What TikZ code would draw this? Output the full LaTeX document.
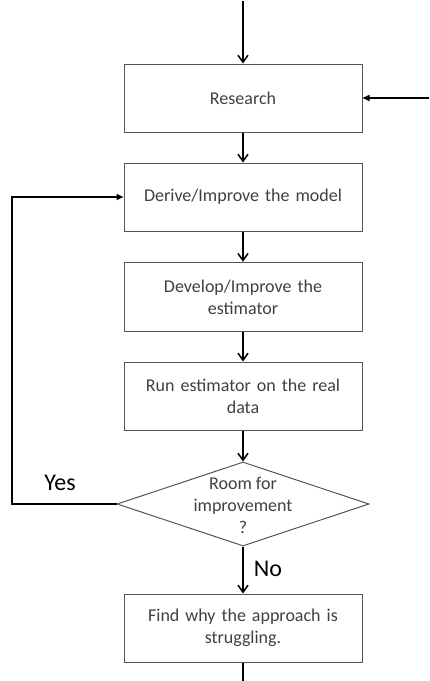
\documentclass[tikz,border=0pt]{standalone}
\usepackage{fontspec}
\setmainfont{Carlito}
\usetikzlibrary{arrows.meta,shapes.geometric}
\definecolor{boxtext}{HTML}{404040}
\definecolor{boxline}{HTML}{555555}
\tikzset{
  procbox/.style={draw=boxline, line width=1pt, minimum width=238pt, minimum height=68pt,
    text width=225pt, align=center, font=\fontsize{18}{22}\selectfont, text=boxtext, inner sep=0pt},
  decbox/.style={draw=boxline, line width=1pt, shape=diamond, minimum width=252pt, minimum height=84pt, inner sep=0pt},
  dectext/.style={align=center, font=\fontsize{18}{22}\selectfont, text=boxtext, inner sep=0pt},
  conn/.style={line width=1.5pt, -{Straight Barb[length=7pt,width=10pt,line width=1.5pt]}},
  hconn/.style={line width=1.5pt, -{Triangle[length=7pt,width=6pt]}},
  plain/.style={line width=1.5pt},
  lbl/.style={font=\fontsize{24}{27}\selectfont, text=black, inner sep=0pt}
}
\begin{document}
\begin{tikzpicture}[x=1pt,y=-1pt]
\useasboundingbox (0,0) rectangle (429,681);
\node[procbox] (research) at (243,98) {Research};
\node[procbox] (derive) at (243,197) {Derive/Improve the model};
\node[procbox, minimum height=69.5pt] (develop) at (243,297) {Develop/Improve the\\estimator};
\node[procbox] (run) at (243,396) {Run estimator on the real\\data};
\node[decbox] (dec) at (243,504) {};
\node[dectext] (dectxt) at (243,505) {Room for\\improvement\\?};
\node[procbox] (find) at (243,628) {Find why the approach is\\struggling.};
\coordinate (topin) at (243,1);
\coordinate (rightin) at (429,98);
\coordinate (botout) at (243,681);
\coordinate (loopl) at (12,504);
\coordinate (loopt) at (12,197);
\draw[conn] (topin) -- (research.north);
\draw[hconn] (rightin) -- (research.east);
\draw[conn] (research) -- (derive);
\draw[conn] (derive) -- (develop);
\draw[conn] (develop) -- (run);
\draw[conn] (run) -- (dec.north);
\draw[conn] (dec.south) -- (find.north);
\draw[plain] (find.south) -- (botout);
\draw[hconn] (dec.west) -- (loopl) -- (loopt) -- (derive.west);
\node[lbl] (yes) at (60,483) {Yes};
\node[lbl] (no) at (268,569) {No};
\end{tikzpicture}
\end{document}
